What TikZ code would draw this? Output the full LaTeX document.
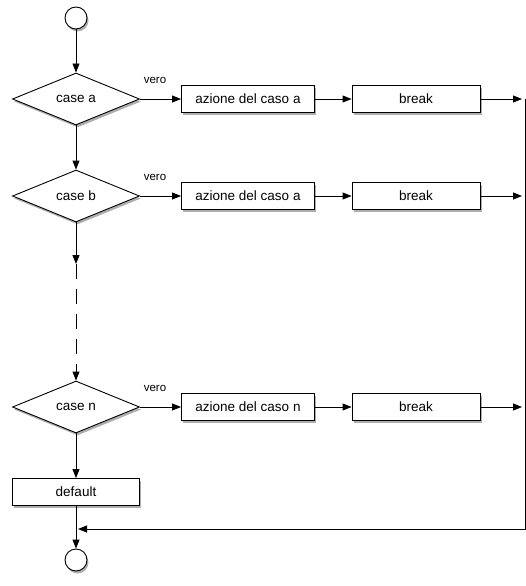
\documentclass[tikz,border=0pt]{standalone}
\usepackage{fontspec}
\setmainfont{Liberation Sans}
\usepackage{tikz}
\usetikzlibrary{arrows.meta,positioning,shapes.geometric,shadows}

\begin{document}
\begin{tikzpicture}[
    x=1pt, y=-1pt,
    line width=0.9pt,
    shade/.style={drop shadow={shadow xshift=1.5pt, shadow yshift=-2.5pt, opacity=0.45, fill=black!70}},
    decision/.style={draw, diamond, fill=white, shade, minimum width=127pt, minimum height=52pt,
                     inner sep=0pt, font=\fontsize{13.5}{16}\selectfont},
    action/.style={draw, rectangle, fill=white, shade, minimum width=133pt, minimum height=27pt,
                   inner sep=0pt, font=\fontsize{13.5}{16}\selectfont},
    stopper/.style={draw, rectangle, fill=white, shade, minimum width=128pt, minimum height=27pt,
                    inner sep=0pt, font=\fontsize{13.5}{16}\selectfont},
    terminal/.style={draw, circle, fill=white, shade, minimum size=22pt, inner sep=0pt},
    yes/.style={font=\fontsize{11.5}{13}\selectfont},
    >={Triangle[length=9pt,width=7pt]}
]
\useasboundingbox (0,0) rectangle (526,586);

% start, cases and end
\node[terminal] (start) at (76,18) {};
\node[decision] (casea) at (76,99) {case a};
\node[decision] (caseb) at (76,196) {case b};
\node[decision] (casen) at (76,407) {case n};
\node[action, minimum width=127pt] (default) at (76,492) {default};
\node[terminal] (stop) at (76,560) {};

% actions
\node[action] (azionea) at (248,99) {azione del caso a};
\node[action] (azioneb) at (248,196) {azione del caso a};
\node[action] (azionen) at (248,407) {azione del caso n};
\node[stopper] (breaka) at (416,99) {break};
\node[stopper] (breakb) at (416,196) {break};
\node[stopper] (breakn) at (416,407) {break};

\node[yes] (veroa) at (155,80) {vero};
\node[yes] (verob) at (155,177) {vero};
\node[yes] (veron) at (155,388) {vero};

% return path
\coordinate (enda) at (522,99);
\coordinate (endb) at (522,196);
\coordinate (endn) at (522,407);
\coordinate (rtop) at (525,99);
\coordinate (rbot) at (525,529);
\coordinate (join) at (78,529);
\coordinate (gaptop) at (76,264);

\draw[->] (start) -- (casea);
\draw[->] (casea) -- (caseb);
\draw[->] (caseb) -- (gaptop);
\draw[->, dash pattern=on 15pt off 10pt] (gaptop) -- (casen);
\draw[->] (casen) -- (default);
\draw[->] (default) -- (stop);

\draw[->] (casea) -- (azionea);
\draw[->] (caseb) -- (azioneb);
\draw[->] (casen) -- (azionen);
\draw[->] (azionea) -- (breaka);
\draw[->] (azioneb) -- (breakb);
\draw[->] (azionen) -- (breakn);
\draw[->] (breaka) -- (enda);
\draw[->] (breakb) -- (endb);
\draw[->] (breakn) -- (endn);

\draw[->] (rtop) -- (rbot) -- (join);
\end{tikzpicture}
\end{document}
